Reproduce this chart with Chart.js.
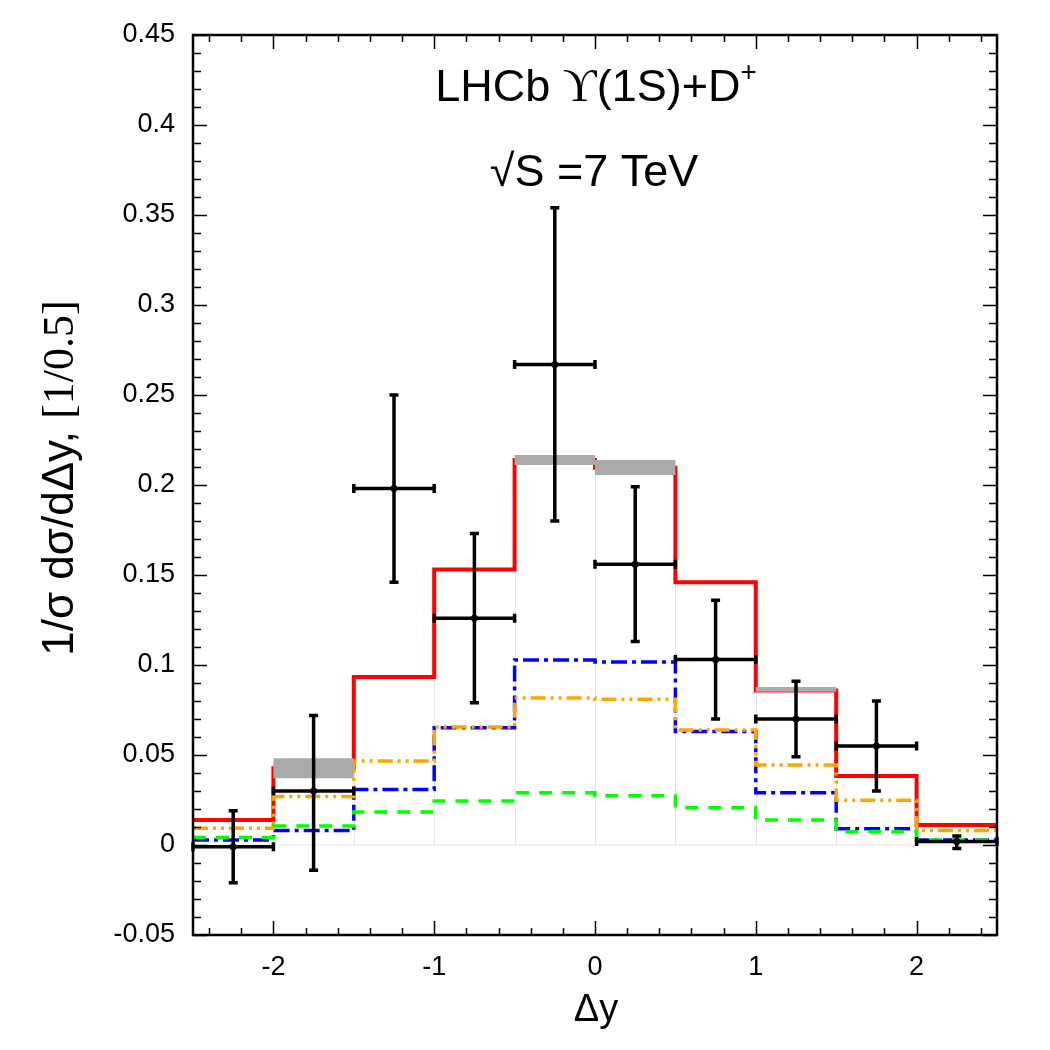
<!DOCTYPE html>
<html>
<head>
<meta charset="utf-8">
<script src="https://cdn.jsdelivr.net/npm/chart.js@4.4.1/dist/chart.umd.min.js"></script>
<style>
  html, body { margin: 0; padding: 0; background: #fff; }
  #wrap { width: 1050px; height: 1050px; }
</style>
</head>
<body>
<div id="wrap"><canvas id="dyChart"></canvas></div>
<script>
// bin edges in delta-y, width 0.5
const binEdges = [-2.5, -2, -1.5, -1, -0.5, 0, 0.5, 1, 1.5, 2, 2.5];
const binCenters = [-2.25, -1.75, -1.25, -0.75, -0.25, 0.25, 0.75, 1.25, 1.75, 2.25];

// theory curves (one value per bin)
const totalCurve = [0.0139, 0.0426, 0.0933, 0.153, 0.2139, 0.2096, 0.146, 0.0858, 0.0383, 0.0111];
const totalUpper = [0.0139, 0.0482, 0.0933, 0.153, 0.2167, 0.2139, 0.146, 0.0878, 0.0383, 0.0111];
const totalLower = [0.0139, 0.0371, 0.0933, 0.153, 0.2111, 0.2056, 0.146, 0.0852, 0.0383, 0.0111];
const orangeCurve = [0.0093, 0.0269, 0.0467, 0.0656, 0.0817, 0.0810, 0.0639, 0.0444, 0.0248, 0.0080];
const blueCurve = [0.0028, 0.0080, 0.0309, 0.0652, 0.1028, 0.1017, 0.0630, 0.0290, 0.0090, 0.0028];
const greenCurve = [0.0041, 0.0106, 0.0183, 0.0244, 0.0290, 0.0274, 0.0207, 0.0139, 0.0074, 0.0028];

// LHCb data points
const dataValues = [-0.001, 0.030, 0.198, 0.126, 0.267, 0.156, 0.103, 0.070, 0.055, 0.002];
const dataErrUp = [0.020, 0.042, 0.052, 0.047, 0.087, 0.043, 0.033, 0.021, 0.025, 0.003];
const dataErrDown = [0.020, 0.044, 0.052, 0.047, 0.087, 0.043, 0.033, 0.021, 0.025, 0.004];
const halfWidth = 0.25;

const xTickValues = [-2, -1, 0, 1, 2];
const yTickValues = [-0.05, 0, 0.05, 0.1, 0.15, 0.2, 0.25, 0.3, 0.35, 0.4, 0.45];

function stepPoints(vals) {
    const pts = binEdges.slice(0, -1).map((e, i) => ({ x: e, y: vals[i] }));
    pts.push({ x: binEdges[binEdges.length - 1], y: vals[vals.length - 1] });
    return pts;
}

function stepLine(label, vals, color, width, dash) {
    return {
        label: label,
        data: stepPoints(vals),
        borderColor: color,
        borderWidth: width,
        borderDash: dash,
        stepped: true,
        pointRadius: 0,
        fill: false
    };
}

const SANS = '"Liberation Sans", Arial, sans-serif';
const SERIF = '"Liberation Serif", "DejaVu Serif", serif';

const framePlugin = {
    id: 'framePlugin',
    beforeDatasetsDraw(chart) {
        // faint histogram outlines
        const c = chart.ctx, x = chart.scales.x, y = chart.scales.y;
        c.save();
        c.strokeStyle = '#e6e6e6';
        c.lineWidth = 1;
        c.beginPath();
        c.moveTo(x.getPixelForValue(-2.5), y.getPixelForValue(0));
        c.lineTo(x.getPixelForValue(2.5), y.getPixelForValue(0));
        for (let i = 1; i < binEdges.length - 1; i++) {
            const px = Math.round(x.getPixelForValue(binEdges[i])) + 0.5;
            c.moveTo(px, y.getPixelForValue(0));
            c.lineTo(px, y.getPixelForValue(Math.max(totalCurve[i - 1], totalCurve[i])));
        }
        c.stroke();
        c.restore();
    },
    afterDatasetsDraw(chart) {
        const c = chart.ctx, x = chart.scales.x, y = chart.scales.y;
        const a = chart.chartArea;
        c.save();
        // error bars
        c.strokeStyle = '#000';
        c.fillStyle = '#000';
        c.lineWidth = 3.5;
        for (let i = 0; i < dataValues.length; i++) {
            const cx = x.getPixelForValue(binCenters[i]);
            const cy = y.getPixelForValue(dataValues[i]);
            const xl = x.getPixelForValue(binCenters[i] - halfWidth);
            const xr = x.getPixelForValue(binCenters[i] + halfWidth);
            const yt = y.getPixelForValue(dataValues[i] + dataErrUp[i]);
            const yb = y.getPixelForValue(dataValues[i] - dataErrDown[i]);
            c.beginPath();
            c.moveTo(xl, cy); c.lineTo(xr, cy);
            c.moveTo(cx, yt); c.lineTo(cx, yb);
            c.moveTo(xl, cy - 4.5); c.lineTo(xl, cy + 4.5);
            c.moveTo(xr, cy - 4.5); c.lineTo(xr, cy + 4.5);
            c.moveTo(cx - 4.5, yt); c.lineTo(cx + 4.5, yt);
            c.moveTo(cx - 4.5, yb); c.lineTo(cx + 4.5, yb);
            c.stroke();
            c.beginPath();
            c.arc(cx, cy, 3.5, 0, Math.PI * 2);
            c.fill();
        }
        // frame
        c.lineWidth = 2.5;
        c.strokeRect(a.left, a.top, a.right - a.left, a.bottom - a.top);
        // inside ticks on all four sides
        c.lineWidth = 1.5;
        c.beginPath();
        for (let v = -2.4; v < 2.5; v += 0.2) {
            const px = Math.round(x.getPixelForValue(v)) + 0.5;
            c.moveTo(px, a.bottom); c.lineTo(px, a.bottom - 7);
            c.moveTo(px, a.top); c.lineTo(px, a.top + 7);
        }
        for (let v = -2; v <= 2; v += 1) {
            const px = Math.round(x.getPixelForValue(v)) + 0.5;
            c.moveTo(px, a.bottom); c.lineTo(px, a.bottom - 14);
            c.moveTo(px, a.top); c.lineTo(px, a.top + 14);
        }
        for (let k = -5; k <= 45; k++) {
            const py = Math.round(y.getPixelForValue(k / 100)) + 0.5;
            const len = (k % 5 === 0) ? 14 : 8;
            c.moveTo(a.left, py); c.lineTo(a.left + len, py);
            c.moveTo(a.right, py); c.lineTo(a.right - len, py);
        }
        c.stroke();
        c.restore();
    },
    afterDraw(chart) {
        const c = chart.ctx;
        c.save();
        c.fillStyle = '#000';
        c.textBaseline = 'alphabetic';
        // title line 1: LHCb Y(1S)+D+
        const parts = [
            { t: 'LHCb ', f: '45px ' + SANS, dy: 0 },
            { t: '\u03D2', f: '47px ' + SERIF, dy: 0 },
            { t: '(1S)+D', f: '45px ' + SANS, dy: 0 },
            { t: '+', f: '28px ' + SANS, dy: -20 }
        ];
        let total = 0;
        parts.forEach(p => { c.font = p.f; p.w = c.measureText(p.t).width; total += p.w; });
        let px = 596 - total / 2;
        parts.forEach(p => { c.font = p.f; c.textAlign = 'left'; c.fillText(p.t, px, 101 + p.dy); px += p.w; });
        // title line 2
        c.font = '45px ' + SANS;
        c.textAlign = 'center';
        c.fillText('\u221AS =7 TeV', 594, 186);
        // x axis title
        c.font = '38px ' + SANS;
        c.fillText('\u0394y', 596, 1021);
        // y axis title (rotated)
        c.translate(73, 478);
        c.rotate(-Math.PI / 2);
        const p1 = '1/\u03C3 d\u03C3/d\u0394y, ';
        const p2 = '[1/0.5]';
        c.font = '44px ' + SANS;
        const w1 = c.measureText(p1).width;
        c.font = '44px ' + SERIF;
        const w2 = c.measureText(p2).width;
        c.textAlign = 'left';
        c.font = '44px ' + SANS;
        c.fillText(p1, -(w1 + w2) / 2, 0);
        c.font = '44px ' + SERIF;
        c.fillText(p2, -(w1 + w2) / 2 + w1, 0);
        c.restore();
    }
};

const upperSet = stepLine('upper', totalUpper, 'rgba(0,0,0,0)', 0, []);
upperSet.fill = '+1';
upperSet.backgroundColor = '#aaaaaa';
const lowerSet = stepLine('lower', totalLower, 'rgba(0,0,0,0)', 0, []);

new Chart(document.getElementById('dyChart'), {
    type: 'line',
    data: {
        datasets: [
            upperSet,
            lowerSet,
            stepLine('green', greenCurve, '#00ff00', 3.5, [13, 10]),
            stepLine('orange', orangeCurve, '#ffa500', 3.5, [15, 5, 3, 5, 3, 5]),
            stepLine('blue', blueCurve, '#0000ff', 3.5, [16, 5, 4, 5]),
            stepLine('total', totalCurve, '#ff0000', 4, [])
        ]
    },
    options: {
        responsive: true,
        maintainAspectRatio: false,
        animation: false,
        layout: { padding: { top: 35, right: 53, left: 0, bottom: 0 } },
        plugins: { legend: { display: false }, tooltip: { enabled: false } },
        scales: {
            x: {
                type: 'linear',
                min: -2.5,
                max: 2.5,
                afterBuildTicks: s => { s.ticks = xTickValues.map(v => ({ value: v })); },
                afterFit: s => { s.height = 115; },
                grid: { display: false, drawTicks: false },
                border: { display: false },
                ticks: {
                    padding: 16,
                    color: '#000',
                    font: { family: SANS, size: 27 },
                    callback: v => String(v)
                }
            },
            y: {
                type: 'linear',
                min: -0.05,
                max: 0.45,
                afterBuildTicks: s => { s.ticks = yTickValues.map(v => ({ value: v })); },
                afterFit: s => { s.width = 193; },
                grid: { display: false, drawTicks: false },
                border: { display: false },
                ticks: {
                    padding: 18,
                    color: '#000',
                    font: { family: SANS, size: 27 },
                    callback: v => String(parseFloat(v.toFixed(2)))
                }
            }
        }
    },
    plugins: [framePlugin]
});
</script>
</body>
</html>
